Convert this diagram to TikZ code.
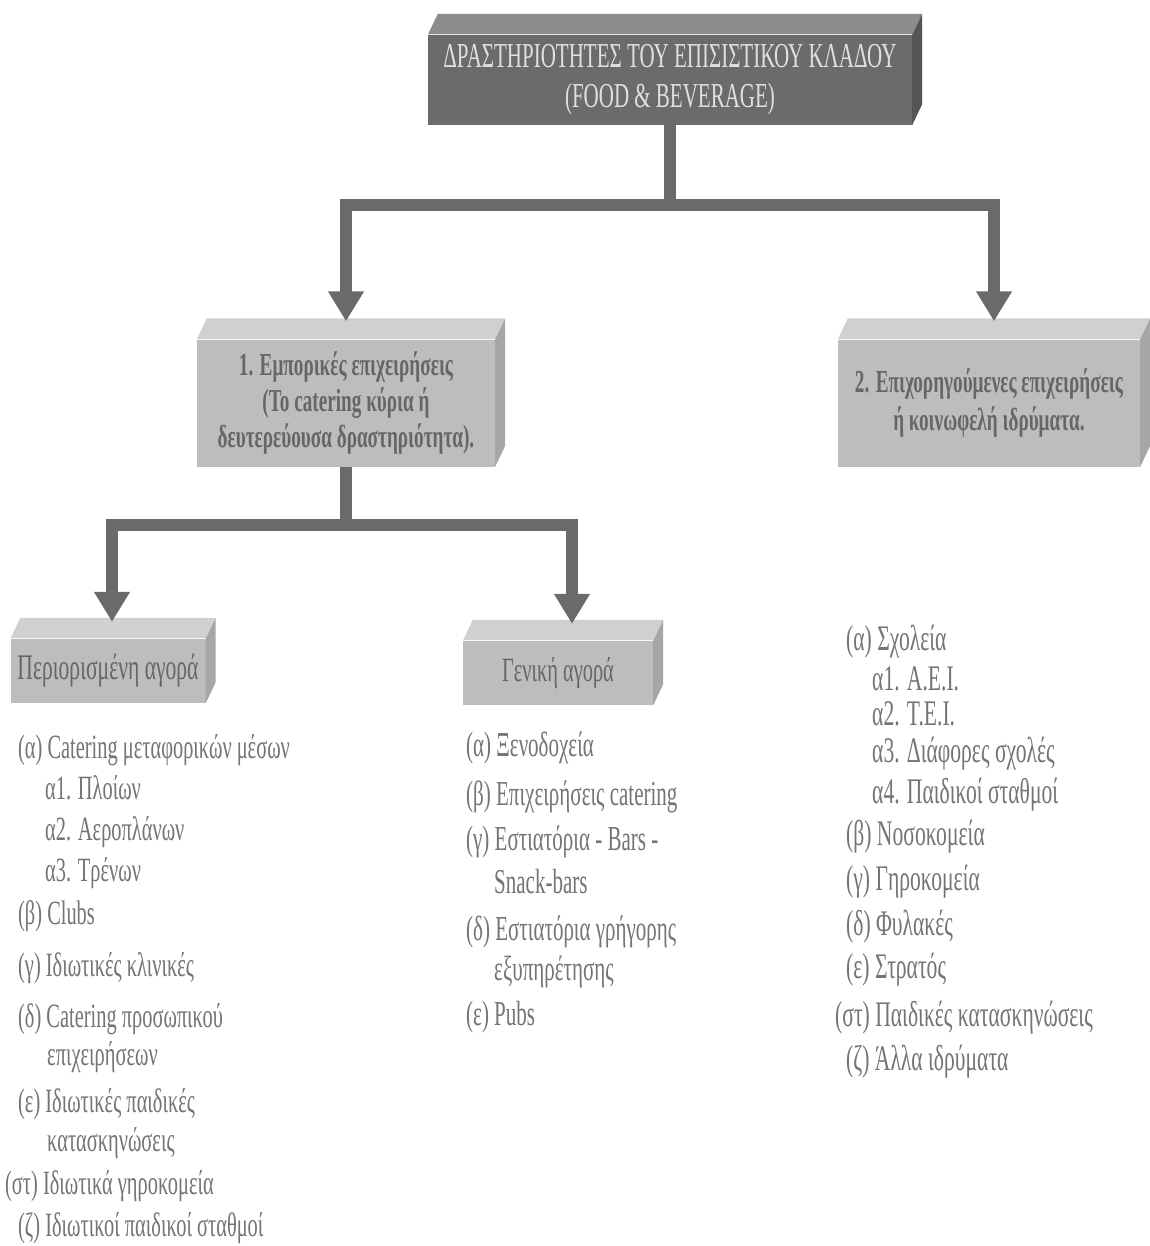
\documentclass[tikz,border=0pt]{standalone}
\usepackage{fontspec}
\setmainfont[FakeStretch=0.6]{Liberation Serif}
\usetikzlibrary{arrows.meta,calc}
\definecolor{darkfront}{HTML}{6B6B6B}
\definecolor{darktop}{HTML}{8C8C8C}
\definecolor{darkside}{HTML}{555555}
\definecolor{lightfront}{HTML}{BDBDBD}
\definecolor{lighttop}{HTML}{D0D0D0}
\definecolor{lightside}{HTML}{A6A6A6}
\definecolor{conncol}{HTML}{6A6A6A}
\definecolor{listcol}{HTML}{747474}
\begin{document}
\begin{tikzpicture}[x=1pt,y=-1pt,
  boxbase/.style={inner sep=0pt,align=center,font=\fontsize{34}{38}\selectfont},
  darkbox/.style={boxbase,fill=darkfront,text=white!88!black},
  lightbox/.style={boxbase,fill=lightfront,text=black!60},
  conn/.style={draw=conncol,line width=12pt},
  arr/.style={conn,-{Triangle[width=34pt,length=30pt]}},
  item/.style={anchor=base west,inner sep=0pt,text=listcol,font=\fontsize{34}{38}\selectfont}]
\useasboundingbox (0,0) rectangle (1149,1246);
\fill[white] (0,0) rectangle (1149,1246);

% three-dimensional box faces: top and right side
\newcommand{\boxfaces}[3]{%
  \fill[#2] (#1.north west) -- ++(10,-21) -- ($(#1.north east)+(10,-21)$) -- (#1.north east) -- cycle;
  \fill[#3] (#1.north east) -- ++(10,-21) -- ($(#1.south east)+(10,-21)$) -- (#1.south east) -- cycle;
  \draw[white!80!#2,line width=1.2pt] (#1.north west) -- (#1.north east);
}

% boxes
\node[darkbox,minimum width=484pt,minimum height=90pt,font=\fontsize{35}{40}\selectfont] (top) at (670,80)
  {ΔΡΑΣΤΗΡΙΟΤΗΤΕΣ ΤΟΥ ΕΠΙΣΙΣΤΙΚΟΥ ΚΛΑΔΟΥ\\(FOOD \& BEVERAGE)};
\boxfaces{top}{darktop}{darkside}

\node[lightbox,minimum width=298pt,minimum height=127pt,font=\bfseries\fontsize{32}{36}\selectfont] (b1) at (346,403)
  {1. Εμπορικές επιχειρήσεις\\(Το catering κύρια ή\\δευτερεύουσα δραστηριότητα).};
\boxfaces{b1}{lighttop}{lightside}

\node[lightbox,minimum width=302pt,minimum height=127pt,font=\bfseries\fontsize{32}{38}\selectfont] (b2) at (989,403)
  {2. Επιχορηγούμενες επιχειρήσεις\\ή κοινωφελή ιδρύματα.};
\boxfaces{b2}{lighttop}{lightside}

\node[lightbox,minimum width=195pt,minimum height=64pt,font=\fontsize{36}{40}\selectfont] (b3) at (108,671) {Περιορισμένη αγορά};
\boxfaces{b3}{lighttop}{lightside}

\node[lightbox,minimum width=190pt,minimum height=64pt] (b4) at (558,673) {Γενική αγορά};
\boxfaces{b4}{lighttop}{lightside}

% connectors
\coordinate (j1) at ($(top.south)+(0,80)$);
\coordinate (t1) at ($(b1.north)+(0,-18)$);
\coordinate (t2) at ($(b2.north)+(5,-18)$);
\draw[conn] (top.south) -- (j1);
\draw[arr] (j1) -| (t1);
\draw[arr] (j1) -| (t2);

\coordinate (j2) at ($(b1.south)+(0,58)$);
\coordinate (t3) at ($(b3.north)+(4,-17)$);
\coordinate (t4) at ($(b4.north)+(14,-17)$);
\draw[conn] (b1.south) -- (j2);
\draw[arr] (j2) -| (t3);
\draw[arr] (j2) -| (t4);

% list under the restricted market
\foreach \x/\y/\t [count=\i] in {
  18/758/{(α) Catering μεταφορικών μέσων},
  45/799/{α1. Πλοίων},
  45/840/{α2. Αεροπλάνων},
  45/881/{α3. Τρένων},
  18/924/{(β) Clubs},
  18/976/{(γ) Ιδιωτικές κλινικές},
  18/1027/{(δ) Catering προσωπικού},
  47/1065/{επιχειρήσεων},
  18/1112/{(ε) Ιδιωτικές παιδικές},
  47/1151/{κατασκηνώσεις},
  5/1194/{(στ) Ιδιωτικά γηροκομεία},
  18/1236/{(ζ) Ιδιωτικοί παιδικοί σταθμοί}}
  \node[item] (l\i) at (\x,\y) {\t};

% list under the general market
\foreach \x/\y/\t [count=\i] in {
  466/756/{(α) Ξενοδοχεία},
  466/805/{(β) Επιχειρήσεις catering},
  466/850/{(γ) Εστιατόρια - Bars -},
  494/893/{Snack-bars},
  466/940/{(δ) Εστιατόρια γρήγορης},
  494/980/{εξυπηρέτησης},
  466/1025/{(ε) Pubs}}
  \node[item,font=\fontsize{35}{38}\selectfont] (m\i) at (\x,\y) {\t};

% list of subsidised institutions
\foreach \x/\y/\t [count=\i] in {
  846/650/{(α) Σχολεία},
  872/690/{α1. Α.Ε.Ι.},
  872/725/{α2. Τ.Ε.Ι.},
  872/762/{α3. Διάφορες σχολές},
  872/803/{α4. Παιδικοί σταθμοί},
  846/845/{(β) Νοσοκομεία},
  846/890/{(γ) Γηροκομεία},
  846/935/{(δ) Φυλακές},
  846/978/{(ε) Στρατός},
  835/1026/{(στ) Παιδικές κατασκηνώσεις},
  846/1070/{(ζ) Άλλα ιδρύματα}}
  \node[item,font=\fontsize{36}{38}\selectfont] (r\i) at (\x,\y) {\t};
\end{tikzpicture}
\end{document}
